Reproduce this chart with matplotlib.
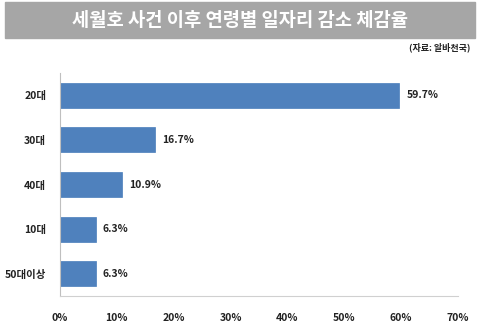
import matplotlib.pyplot as plt
from matplotlib.patches import Rectangle

plt.rcParams['font.family'] = ['Noto Sans CJK KR', 'DejaVu Sans']

categories = ['20대', '30대', '40대', '10대', '50대이상']
values = [59.7, 16.7, 10.9, 6.3, 6.3]
xticks = [0, 10, 20, 30, 40, 50, 60, 70]
title = '세월호 사건 이후 연령별 일자리 감소 체감율'
source = '(자료: 알바천국)'

fig = plt.figure(figsize=(4.8, 3.28), dpi=100)

# gray title banner
fig.patches.append(Rectangle((5 / 480, 1 - 38 / 328), 470 / 480, 36 / 328,
                             transform=fig.transFigure, color='#a6a6a6', zorder=0))
fig.text(0.5, 1 - 20 / 328, title, ha='center', va='center', color='white',
         fontsize=13.5, fontweight='bold')
fig.text(470 / 480, 1 - 47 / 328, source, ha='right', va='center',
         fontsize=6.5, fontweight='bold', color='#222222')

ax = fig.add_axes([60 / 480, 32 / 328, 398 / 480, 223 / 328])
ypos = list(range(len(categories)))
ax.barh(ypos, values, height=0.56, color='#4f81bd', edgecolor='#4a7ebb', linewidth=0.5)
for y, v in zip(ypos, values):
    ax.text(v + 1.2, y, f'{v}%', va='center', ha='left', fontsize=7.5,
            fontweight='bold', color='#222222')

ax.set_ylim(len(categories) - 0.5, -0.5)
ax.set_yticks(ypos, categories)
ax.set_xlim(0, 70)
ax.set_xticks(xticks, [f'{t}%' for t in xticks])
ax.tick_params(axis='both', length=0, labelsize=7.5, colors='#222222')
ax.tick_params(axis='x', pad=12)
ax.tick_params(axis='y', pad=10)
for lab in ax.get_xticklabels() + ax.get_yticklabels():
    lab.set_fontweight('bold')
ax.spines['top'].set_visible(False)
ax.spines['right'].set_visible(False)
ax.spines['left'].set_color('#bfbfbf')
ax.spines['bottom'].set_color('#d0d0d0')

fig.savefig('out.png', dpi=100)
